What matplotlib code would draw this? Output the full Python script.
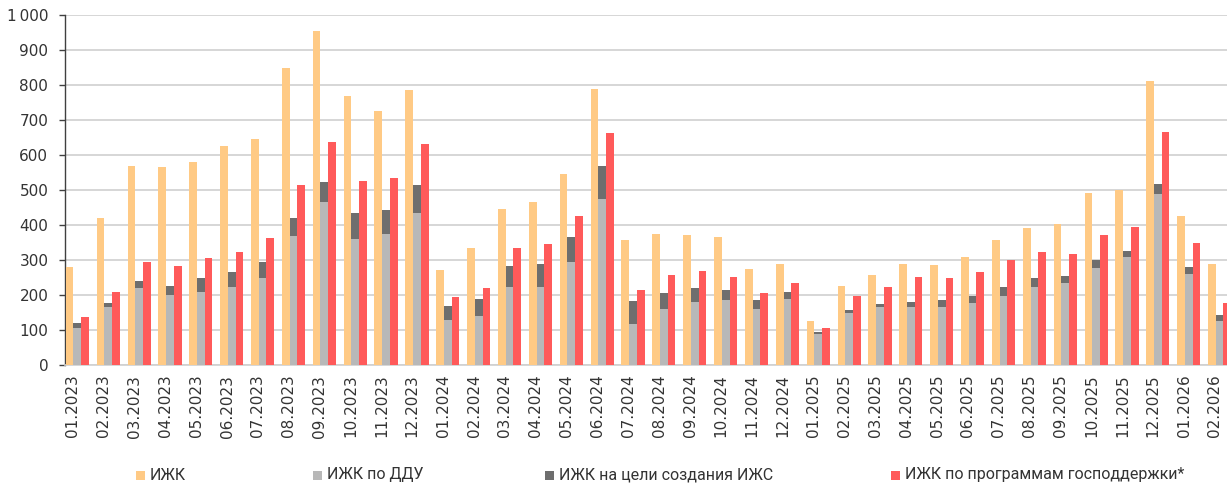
import numpy as np
import matplotlib
matplotlib.use("Agg")
import matplotlib.pyplot as plt
from matplotlib.patches import Rectangle
from matplotlib.ticker import FuncFormatter

# months 01.2023 - 02.2026
months = ["01.2023", "02.2023", "03.2023", "04.2023", "05.2023", "06.2023",
          "07.2023", "08.2023", "09.2023", "10.2023", "11.2023", "12.2023",
          "01.2024", "02.2024", "03.2024", "04.2024", "05.2024", "06.2024",
          "07.2024", "08.2024", "09.2024", "10.2024", "11.2024", "12.2024",
          "01.2025", "02.2025", "03.2025", "04.2025", "05.2025", "06.2025",
          "07.2025", "08.2025", "09.2025", "10.2025", "11.2025", "12.2025",
          "01.2026", "02.2026"]

# ИЖК total
izhk = [281, 421, 569, 566, 580, 627, 647, 849, 955, 770, 726, 785,
        271, 333, 447, 466, 546, 788, 356, 374, 372, 367, 273, 290,
        127, 227, 256, 290, 287, 309, 356, 391, 404, 490, 501, 811,
        425, 290]
# ИЖК по ДДУ
izhk_ddu = [105, 166, 220, 200, 210, 222, 249, 370, 466, 361, 374, 435,
            129, 139, 223, 223, 294, 474, 117, 160, 180, 186, 160, 188,
            88, 150, 167, 167, 167, 176, 197, 224, 234, 278, 310, 488,
            261, 127]
# ИЖК на цели создания ИЖС (stacked on top of ДДУ)
izhk_izhs = [16, 11, 21, 26, 39, 44, 44, 51, 58, 72, 69, 79,
             40, 51, 60, 66, 73, 96, 65, 47, 41, 29, 25, 21,
             5, 7, 6, 14, 18, 21, 25, 24, 21, 21, 15, 29,
             20, 15]
# ИЖК по программам господдержки
izhk_gov = [138, 209, 295, 282, 305, 322, 362, 514, 636, 527, 533, 632,
            194, 219, 333, 346, 427, 662, 213, 256, 270, 251, 206, 234,
            106, 197, 224, 251, 249, 265, 300, 322, 317, 372, 394, 666,
            350, 177]

legend_labels = ["ИЖК", "ИЖК по ДДУ", "ИЖК на цели создания ИЖС",
                 "ИЖК по программам господдержки*"]

c_orange = "#FFCA85"
c_lgrey = "#B8B8B8"
c_dgrey = "#6E6E6E"
c_red = "#FF5A5A"
txt = "#333333"

plt.rcParams["font.family"] = ["DejaVu Sans"]
W, H = 1227, 484
fig = plt.figure(figsize=(W / 100, H / 100), dpi=100)
ax = fig.add_axes([65 / W, (H - 365) / H, (W - 65) / W, 350 / H])

x = np.arange(len(months))
w = 0.25
ax.bar(x - w, izhk, w, color=c_orange, zorder=3)
ax.bar(x, izhk_ddu, w, color=c_lgrey, zorder=3)
ax.bar(x, izhk_izhs, w, bottom=izhk_ddu, color=c_dgrey, zorder=3)
ax.bar(x + w, izhk_gov, w, color=c_red, zorder=3)

ax.set_xlim(-0.4, 37.24)
ax.set_ylim(0, 1000)
ax.set_yticks(np.arange(0, 1001, 100))
ax.yaxis.set_major_formatter(FuncFormatter(lambda v, p: f"{v:,.0f}".replace(",", "\u2009")))
ax.set_xticks(x - 0.15)
ax.set_xticklabels(months, rotation=90, va="top", ha="center")

ax.grid(axis="y", color="#D0D0D0", linewidth=1.2, zorder=0)
ax.set_axisbelow(True)
for s in ["top", "right"]:
    ax.spines[s].set_visible(False)
ax.spines["bottom"].set_color("#D0D0D0")
ax.spines["bottom"].set_linewidth(1.2)
ax.spines["left"].set_color("#404040")
ax.spines["left"].set_linewidth(1.0)
ax.tick_params(axis="x", length=0, pad=7, labelsize=11, labelcolor=txt)
ax.tick_params(axis="y", length=4, width=1, color="#404040", pad=8,
               labelsize=11, labelcolor=txt)

# legend drawn by hand along the bottom
leg_x = [136, 313, 545, 891]
leg_c = [c_orange, c_lgrey, c_dgrey, c_red]
for lx, lc, lab in zip(leg_x, leg_c, legend_labels):
    fig.add_artist(Rectangle((lx / W, (H - 480) / H), 9 / W, 9 / H,
                             transform=fig.transFigure, color=lc, lw=0))
    fig.text((lx + 14) / W, (H - 475) / H, lab, fontsize=11.5, color=txt,
             family=["Roboto", "DejaVu Sans"], va="center", ha="left")

fig.savefig("out.png", dpi=100)
